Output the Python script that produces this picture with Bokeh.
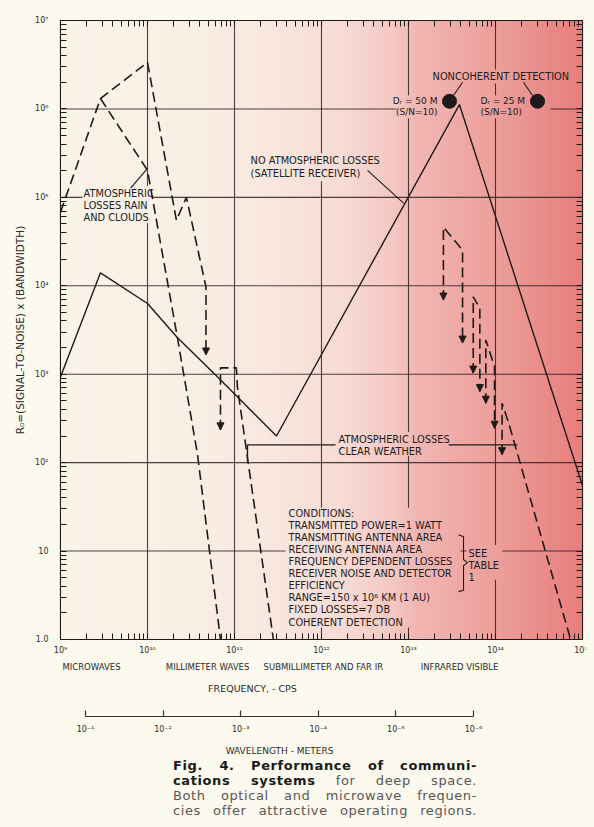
import numpy as np
from bokeh.plotting import figure
from bokeh.models import (LogAxis, FixedTicker, CustomJSTickFormatter, Range1d,
                          LogScale, Label, Arrow, NormalHead, ColumnDataSource, Div)
from bokeh.layouts import column
from bokeh.embed import file_html
from bokeh.resources import INLINE

# ---------------- data (frequency in c/s, R0) ----------------
no_atm_freq = [1e9, 2.88e9, 1e10, 2.2e10, 6.4e10, 3.04e11, 3.85e13, 1e15]
no_atm_r    = [930, 1.4e4, 6.3e3, 2.6e3, 930, 200, 1.12e6, 55]

rain_a_freq = [1e9, 2.88e9, 1e10, 2.15e10, 2.8e10, 4.7e10, 4.7e10]
rain_a_r    = [6.8e4, 1.31e6, 3.36e6, 5.5e4, 1.0e5, 9.7e3, 1.65e3]
rain_b_freq = [2.88e9, 1e10, 2.2e10, 3.76e10, 6.9e10]
rain_b_r    = [1.31e6, 2.02e5, 2.64e3, 123, 1]
rain_c_freq = [6.9e10, 6.9e10, 1.05e11, 1.08e11, 2.8e11]
rain_c_r    = [235, 1.18e3, 1.18e3, 718, 1]

ir1_freq = [2.52e13, 2.52e13, 4.18e13, 4.18e13]
ir1_r    = [6.9e3, 4.6e4, 2.53e4, 2.25e3]
ir2_freq = [5.55e13, 5.55e13, 6.61e13, 6.61e13]
ir2_r    = [1.03e3, 7.5e3, 5.56e3, 636]
ir3_freq = [7.74e13, 7.74e13, 9.0e13, 9.75e13, 9.75e13]
ir3_r    = [470, 2.44e3, 1.55e3, 1.22e3, 245]
ir4_freq = [1.19e14, 1.19e14, 1.42e14, 7.3e14]
ir4_r    = [123, 470, 279, 1]

arrow_freq = [4.7e10, 6.9e10, 2.52e13, 4.18e13, 5.55e13, 6.61e13, 7.74e13, 9.75e13, 1.19e14]
arrow_r    = [1.65e3, 235, 6.9e3, 2.25e3, 1.03e3, 636, 470, 245, 123]

clear_freq = [[1.41e11, 1.41e11, 1.45e12], [2.89e13, 1.79e14]]
clear_r    = [[100, 159, 159], [159, 159]]

dot_freq = [2.96e13, 3.04e14]
dot_r    = [1.22e6, 1.22e6]

x_decades = [1e9, 1e10, 1e11, 1e12, 1e13, 1e14, 1e15]
y_decades = [1, 10, 1e2, 1e3, 1e4, 1e5, 1e6, 1e7]
wl_decades = [1e-1, 1e-2, 1e-3, 1e-4, 1e-5, 1e-6]

region_names = ["MICROWAVES", "MILLIMETER WAVES", "SUBMILLIMETER AND FAR IR", "INFRARED VISIBLE"]
region_pos   = [2.27e9, 4.9e10, 1.05e12, 3.86e13]

conditions = ["CONDITIONS:",
              "TRANSMITTED POWER=1 WATT",
              "TRANSMITTING ANTENNA AREA",
              "RECEIVING ANTENNA AREA",
              "FREQUENCY DEPENDENT LOSSES",
              "RECEIVER NOISE AND DETECTOR",
              "EFFICIENCY",
              "RANGE=150 x 10\u2076 KM (1 AU)",
              "FIXED LOSSES=7 DB",
              "COHERENT DETECTION"]

# background tint stops (log10 frequency -> rgb)
bg_logf = [9.0, 10.5, 11.5, 12.3, 12.8, 13.1, 14.0, 15.0]
bg_r    = [251, 250, 249, 247, 245, 242, 237, 232]
bg_g    = [244, 239, 231, 218, 201, 183, 159, 126]
bg_b    = [233, 229, 223, 212, 196, 179, 155, 125]

# gridline gaps behind the lettering: (log f0, log f1, log R0, log R1)
mask_boxes = [(9.253, 10.057, 4.708, 5.126),
              (11.161, 12.701, 5.182, 5.498),
              (13.253, 14.839, 6.289, 6.447),
              (12.862, 14.632, 5.894, 6.153),
              (12.172, 13.483, 2.077, 2.348),
              (11.586, 13.598, 0.135, 1.490),
              (13.667, 14.080, 0.677, 1.070)]

PAGE = "#fcfaee"
FONT = "DejaVu Sans"
INK = "#1e1a1a"
TXT = 9.8


def minors(decs):
    return [d * k for d in decs[:-1] for k in range(2, 10)]


def tint_image(l0, l1, ncols):
    c = l0 + (np.arange(ncols) + 0.5) * (l1 - l0) / ncols
    img = np.empty((1, ncols), dtype=np.uint32)
    v = img.view(dtype=np.uint8).reshape((1, ncols, 4))
    v[0, :, 0] = np.interp(c, bg_logf, bg_r)
    v[0, :, 1] = np.interp(c, bg_logf, bg_g)
    v[0, :, 2] = np.interp(c, bg_logf, bg_b)
    v[0, :, 3] = 255
    return img


SUP = """
const s = {'-':'\u207b','0':'\u2070','1':'\u00b9','2':'\u00b2','3':'\u00b3','4':'\u2074',
           '5':'\u2075','6':'\u2076','7':'\u2077','8':'\u2078','9':'\u2079'};
const e = Math.round(Math.log10(tick));
if (e == 0) return '1.0';
if (e == 1) return '10';
return '10' + String(e).split('').map(c => s[c]).join('');
"""
NAMES = """
let k = 0, best = 1e9;
for (let i = 0; i < pos.length; i++) {
  const d = Math.abs(Math.log10(pos[i]) - Math.log10(tick));
  if (d < best) { best = d; k = i; }
}
return names[k];
"""
EMPTY = "return '';"

p = figure(width=586, height=750, x_axis_type="log", y_axis_type="log",
           x_range=Range1d(1e9, 1e15), y_range=Range1d(1, 1e7),
           output_backend="svg", toolbar_location=None,
           min_border_left=52, min_border_right=12, min_border_top=12, min_border_bottom=118,
           background_fill_color=PAGE, border_fill_color=PAGE)
p.outline_line_color = INK
p.outline_line_width = 1.2
p.xgrid.grid_line_color = None
p.ygrid.grid_line_color = None

# background tint
p.image_rgba(image=[tint_image(9, 15, 522)], x=1e9, y=1, dw=1e15 - 1e9, dh=1e7 - 1, level="image")

# decade grid
gx = x_decades[1:-1]
gy = y_decades[1:-1]
p.segment(x0=gx, y0=[1] * len(gx), x1=gx, y1=[1e7] * len(gx),
          line_color="#2a2222", line_alpha=0.85, line_width=1.1)
p.segment(x0=[1e9] * len(gy), y0=gy, x1=[1e15] * len(gy), y1=gy,
          line_color="#2a2222", line_alpha=0.85, line_width=1.1)

# gaps in the grid behind the lettering (same tint as the background)
for (a, b, c, d) in mask_boxes:
    p.image_rgba(image=[tint_image(a, b, max(2, int(round((b - a) * 87))))],
                 x=10 ** a, y=10 ** c, dw=10 ** b - 10 ** a, dh=10 ** d - 10 ** c)


def style_ticks(ax):
    ax.major_tick_in = 6
    ax.major_tick_out = 0
    ax.minor_tick_in = 6
    ax.minor_tick_out = 0
    ax.major_tick_line_color = INK
    ax.minor_tick_line_color = INK
    ax.axis_line_color = INK
    ax.major_label_text_font = FONT
    ax.major_label_text_font_size = "8px"
    ax.major_label_text_color = "#2a2a2a"


# frequency axis
ax1 = p.xaxis[0]
ax1.ticker = FixedTicker(ticks=x_decades, minor_ticks=minors(x_decades))
ax1.formatter = CustomJSTickFormatter(code=SUP)
style_ticks(ax1)
ax1.major_label_standoff = 6

# R0 axis
ay = p.yaxis[0]
ay.ticker = FixedTicker(ticks=y_decades, minor_ticks=minors(y_decades))
ay.formatter = CustomJSTickFormatter(code=SUP)
style_ticks(ay)
ay.major_label_standoff = 12
ay.axis_label = "R\u2080=(SIGNAL-TO-NOISE) x (BANDWIDTH)"
ay.axis_label_text_font = FONT
ay.axis_label_text_font_size = "10.5px"
ay.axis_label_text_font_style = "normal"
ay.axis_label_text_color = "#2a2a2a"
ay.axis_label_standoff = 6

# mirrored top / right ticks
top = LogAxis(ticker=FixedTicker(ticks=x_decades, minor_ticks=minors(x_decades)),
              formatter=CustomJSTickFormatter(code=EMPTY))
style_ticks(top)
top.major_label_text_font_size = "0px"
top.major_label_standoff = 0
p.add_layout(top, "above")
right = LogAxis(ticker=FixedTicker(ticks=y_decades, minor_ticks=minors(y_decades)),
                formatter=CustomJSTickFormatter(code=EMPTY))
style_ticks(right)
right.major_label_text_font_size = "0px"
right.major_label_standoff = 0
p.add_layout(right, "right")


def text_axis(ticks, code, args=None, x_range_name="default", standoff=6, size="8.5px"):
    a = LogAxis(x_range_name=x_range_name,
                ticker=FixedTicker(ticks=ticks),
                formatter=CustomJSTickFormatter(code=code, args=args or {}))
    a.axis_line_color = None
    a.major_tick_line_color = None
    a.minor_tick_line_color = None
    a.major_tick_out = 0
    a.major_tick_in = 0
    a.major_label_standoff = standoff
    a.major_label_text_font = FONT
    a.major_label_text_font_size = size
    a.major_label_text_color = "#2a2a2a"
    return a


# region names
ax2 = text_axis(region_pos, NAMES, dict(pos=region_pos, names=region_names), standoff=4)
p.add_layout(ax2, "below")
# frequency title
ax3 = text_axis([1.61e11], "return 'FREQUENCY, - CPS';", standoff=8, size="9.5px")
ax3.axis_label = " "
ax3.axis_label_standoff = 7
ax3.axis_label_text_font_size = "9px"
p.add_layout(ax3, "below")

# wavelength axis (separate scale)
p.extra_x_ranges = {"wl": Range1d(10 ** -0.678, 10 ** -7.405)}
p.extra_x_scales = {"wl": LogScale()}
ax4 = LogAxis(x_range_name="wl", ticker=FixedTicker(ticks=wl_decades),
              formatter=CustomJSTickFormatter(code=SUP), bounds=(1e-6, 1e-1))
ax4.major_tick_in = 6
ax4.major_tick_out = 0
ax4.minor_tick_line_color = None
ax4.axis_line_color = "#333333"
ax4.axis_line_width = 1.2
ax4.major_tick_line_color = "#333333"
ax4.major_tick_line_width = 1.2
ax4.major_label_standoff = 8
ax4.major_label_text_font = FONT
ax4.major_label_text_font_size = "8px"
ax4.major_label_text_color = "#2a2a2a"
p.add_layout(ax4, "below")
ax5 = text_axis([3.16e-4], "return 'WAVELENGTH - METERS';", x_range_name="wl", standoff=9, size="9px")
p.add_layout(ax5, "below")

# ---------------- curves ----------------
p.line(no_atm_freq, no_atm_r, line_color=INK, line_width=1.4)
dash = "10 5"
p.multi_line(xs=[rain_a_freq, rain_b_freq, rain_c_freq, ir1_freq, ir2_freq, ir3_freq, ir4_freq],
             ys=[rain_a_r, rain_b_r, rain_c_r, ir1_r, ir2_r, ir3_r, ir4_r],
             line_color=INK, line_width=1.6, line_dash=dash)
p.multi_line(xs=clear_freq, ys=clear_r, line_color=INK, line_width=1.3)

# leader lines
p.multi_line(xs=[[6.4e9, 1e10], [3.38e12, 8.77e12], [4.18e13, 3.29e13], [2.1e14, 2.66e14]],
             ys=[[1.27e5, 2.13e5], [2.02e5, 8.6e4], [2.0e6, 1.42e6], [2.0e6, 1.42e6]],
             line_color=INK, line_width=1.1)
# bracket
p.line([3.76e13, 4.29e13, 4.29e13, 4.77e13, 4.29e13, 4.29e13, 3.76e13],
       [15.3, 14.5, 8.0, 7.4, 6.84, 3.6, 3.48], line_color=INK, line_width=1.1)

# arrow heads
asrc = ColumnDataSource(dict(x=arrow_freq, y0=[v * 1.6 for v in arrow_r], y1=arrow_r))
p.add_layout(Arrow(source=asrc, x_start="x", y_start="y0", x_end="x", y_end="y1",
                   line_alpha=0,
                   end=NormalHead(size=7, fill_color=INK, line_color=INK, line_width=1)))

# noncoherent detection points
p.scatter(dot_freq, dot_r, size=14, color=INK)

# ---------------- texts ----------------


def lbl(x, y, text, align="left", baseline="top", lh=1.12, size=TXT):
    p.add_layout(Label(x=x, y=y, text=text, text_align=align, text_baseline=baseline,
                       text_font=FONT, text_font_size="%.1fpx" % size, text_color="#201c1c",
                       text_line_height=lh))


lbl(1.84e9, 1.27e5, "ATMOSPHERIC\nLOSSES RAIN\nAND CLOUDS", lh=1.1)
lbl(1.53e11, 2.99e5, "NO ATMOSPHERIC LOSSES\n(SATELLITE RECEIVER)", lh=1.15)
lbl(1.89e13, 2.33e6, "NONCOHERENT DETECTION", baseline="middle")
lbl(2.15e13, 1.39e6, "D\u1d63 = 50 M\n(S/N=10)", align="right", lh=1.12, size=9.0)
lbl(6.73e13, 1.39e6, "D\u1d63 = 25 M\n(S/N=10)", lh=1.12, size=9.0)
lbl(1.57e12, 212, "ATMOSPHERIC LOSSES\nCLEAR WEATHER", lh=1.15)
lbl(4.18e11, 31, "\n".join(conditions), lh=1.10)
lbl(4.9e13, 10.9, "SEE\nTABLE\n1", lh=1.12)

row = 'style="text-align:justify;text-align-last:justify;white-space:nowrap;"'
caption = f"""
<div style="width:304px;font-family:'DejaVu Sans';font-size:13px;line-height:15px;letter-spacing:0.6px;color:#5a5656;">
<div {row}><b style="color:#1a1a1a">Fig. 4. Performance of communi-</b></div>
<div {row}><b style="color:#1a1a1a">cations systems</b> for deep space.</div>
<div {row}>Both optical and microwave frequen-</div>
<div {row}>cies offer attractive operating regions.</div>
</div>
"""
div = Div(text=caption, width=304, height=62, margin=(0, 0, 0, 165))

layout = column(p, div, spacing=0, styles={"background-color": PAGE})
html = file_html(layout, INLINE)
k = html.rfind("</head>")
style = ("<style>html,body{background-color:%s !important;} "
         "body{margin:8px !important;}</style>" % PAGE)
html = html[:k] + style + html[k:]
open("out.html", "w").write(html)
